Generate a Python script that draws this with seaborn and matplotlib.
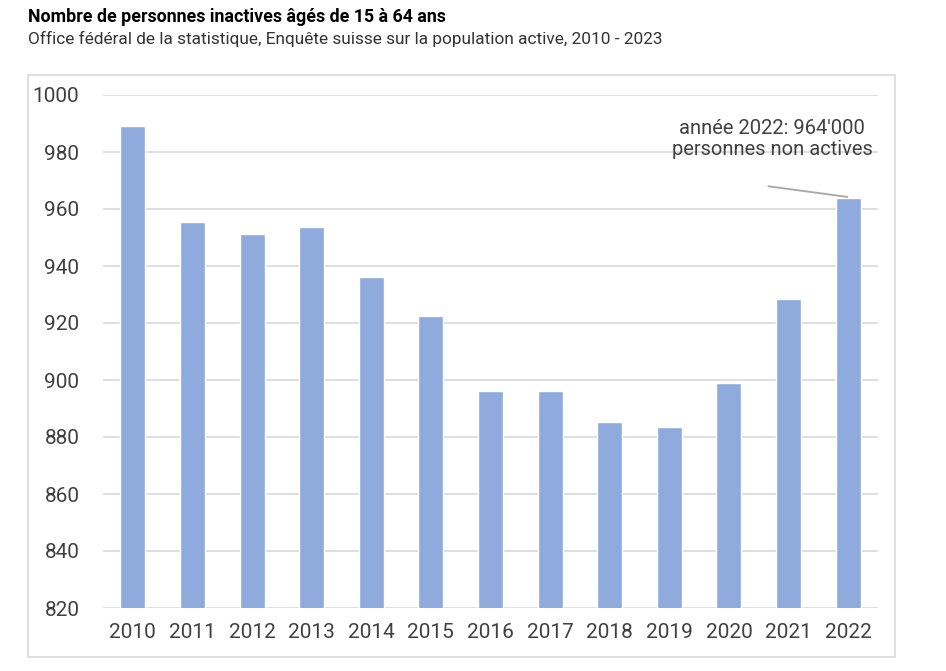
import matplotlib
matplotlib.use("Agg")
import matplotlib.pyplot as plt
import seaborn as sns
import pandas as pd
from matplotlib.patches import Rectangle

years = ["2010", "2011", "2012", "2013", "2014", "2015", "2016", "2017",
         "2018", "2019", "2020", "2021", "2022"]
values = [989, 955.4, 951.2, 953.7, 936.1, 922.5, 896.1, 896.1, 885.3, 883.5, 899, 928.4, 964]
yticks = [820, 840, 860, 880, 900, 920, 940, 960, 980, 1000]

title = "Nombre de personnes inactives âgés de 15 à 64 ans"
subtitle = "Office fédéral de la statistique, Enquête suisse sur la population active, 2010 - 2023"
note = "année 2022: 964'000\npersonnes non actives"

sns.set_theme(style="white")
plt.rcParams["font.family"] = ["Roboto", "DejaVu Sans"]

df = pd.DataFrame({"year": years, "value": values})

fig = plt.figure(figsize=(9.46, 6.71), dpi=100)
W, H = 946, 671
ax = fig.add_axes([103 / W, 1 - 608 / H, (878 - 103) / W, (608 - 95) / H])

# outer chart frame
fig.patches.append(Rectangle((28 / W, 1 - 657 / H), (895 - 28) / W, (657 - 75) / H,
                             transform=fig.transFigure, fill=False,
                             edgecolor="#d9d9d9", linewidth=1.2, zorder=0))

sns.barplot(data=df, x="year", y="value", color="#8faadc", saturation=1,
            width=0.42, ax=ax, zorder=3)

ax.set_ylim(820, 1000)
ax.set_xlim(-0.5, len(years) - 0.5)
ax.set_yticks(yticks)
ax.set_yticklabels([str(t) for t in yticks])
ax.yaxis.grid(True, color="#d9d9d9", linewidth=1.2, zorder=0)
ax.set_axisbelow(True)
for s in ax.spines.values():
    s.set_visible(False)
ax.set_xlabel("")
ax.set_ylabel("")
ax.tick_params(axis="both", length=0, labelsize=15, colors="#404040")
ax.tick_params(axis="y", pad=17)
ax.tick_params(axis="x", pad=11)

fig.text(28 / W, 1 - 17 / H, title, fontsize=12.8, fontweight="bold",
         color="#000000", va="center", ha="left")
fig.text(28 / W, 1 - 39 / H, subtitle, fontsize=12.4,
         color="#333333", va="center", ha="left")

# annotation for 2022
ax.annotate(note, xy=(12, 964), xytext=(10.72, 984.5), textcoords="data",
            ha="center", va="center", fontsize=14.5,
            color="#404040", linespacing=1.1)
ax.plot([10.65, 12.0], [968, 964.2], color="#a6a6a6", linewidth=1.3, zorder=4,
        solid_capstyle="butt")

fig.savefig("out.png", dpi=100, facecolor="white")
